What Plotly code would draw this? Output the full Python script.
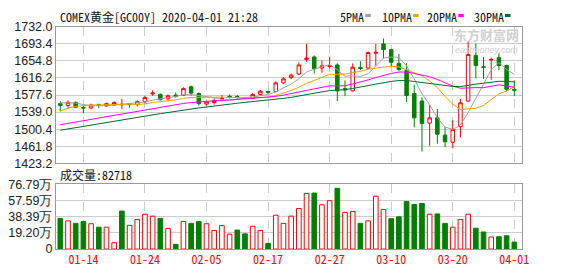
import pandas as pd
import plotly.graph_objects as go

# ---------------- data ----------------
dates = [
    "2020-01-09", "2020-01-10", "2020-01-13", "2020-01-14", "2020-01-15", "2020-01-16", "2020-01-17",
    "2020-01-20", "2020-01-21", "2020-01-22", "2020-01-23", "2020-01-24", "2020-01-27", "2020-01-28",
    "2020-01-29", "2020-01-30", "2020-01-31",
    "2020-02-03", "2020-02-04", "2020-02-05", "2020-02-06", "2020-02-07", "2020-02-10", "2020-02-11",
    "2020-02-12", "2020-02-13", "2020-02-14", "2020-02-17", "2020-02-18", "2020-02-19", "2020-02-20",
    "2020-02-21", "2020-02-24", "2020-02-25", "2020-02-26", "2020-02-27", "2020-02-28",
    "2020-03-02", "2020-03-03", "2020-03-04", "2020-03-05", "2020-03-06", "2020-03-09", "2020-03-10",
    "2020-03-11", "2020-03-12", "2020-03-13", "2020-03-16", "2020-03-17", "2020-03-18", "2020-03-19",
    "2020-03-20", "2020-03-23", "2020-03-24", "2020-03-25", "2020-03-26", "2020-03-27", "2020-03-30",
    "2020-03-31", "2020-04-01",
]
opens = [1558, 1554, 1561, 1549.5, 1548.5, 1556, 1553, 1555, 1555.5, 1558,
         1556, 1562.5, 1580, 1579, 1569, 1577.5, 1577, 1596, 1581, 1557,
         1560.5, 1568.5, 1574.5, 1574, 1571.5, 1570, 1579, 1585.5, 1585.5, 1605,
         1617, 1625, 1658, 1663.5, 1638.5, 1642, 1645.5, 1592, 1587, 1640,
         1638.5, 1672, 1693, 1680, 1649, 1633.5, 1581, 1564, 1514, 1526,
         1487, 1471, 1506, 1564, 1667, 1641.5, 1656.5, 1662, 1644, 1590.5]
highs = [1563, 1565.5, 1563, 1553, 1558, 1558, 1560.5, 1563.5, 1569, 1559.5,
         1565.5, 1576, 1588, 1581, 1578.5, 1583, 1595, 1599, 1583.5, 1564.5,
         1570.5, 1577.5, 1579, 1577.5, 1573, 1582, 1589, 1587, 1608.5, 1618,
         1626, 1651.5, 1693, 1667, 1656, 1664, 1649, 1610.5, 1649, 1654,
         1676, 1693, 1705, 1682, 1670.5, 1649, 1601, 1572.5, 1555, 1546,
         1505, 1520.5, 1569, 1699, 1694, 1663.5, 1662, 1672, 1646, 1610.5]
lows = [1540.5, 1546, 1549, 1536, 1545.5, 1548, 1550.5, 1553.5, 1545.5, 1549,
        1552, 1558, 1575.5, 1565.5, 1565.5, 1572, 1575.5, 1576, 1553.5, 1553.5,
        1556, 1563.5, 1570, 1569, 1567.5, 1569, 1576, 1580, 1583.5, 1602.5,
        1613.5, 1622.5, 1652.5, 1626, 1628, 1637, 1564, 1575, 1585.5, 1633.5,
        1635.5, 1644, 1660, 1640.5, 1632, 1562, 1504.5, 1450, 1463, 1467.5,
        1460, 1457.5, 1482, 1562, 1615.5, 1614, 1612, 1633.5, 1587, 1575]
closes = [1554, 1561, 1550, 1548, 1555, 1554, 1558, 1560.5, 1556.5, 1557,
          1562.5, 1572, 1582, 1567, 1576, 1574, 1592, 1582, 1558, 1562,
          1565, 1570, 1573, 1572, 1570, 1579, 1586, 1584, 1605, 1614,
          1622.5, 1645.5, 1661, 1637, 1643.5, 1644, 1587, 1589, 1640.5, 1637.5,
          1673.5, 1674, 1680, 1651.5, 1635, 1576.5, 1526, 1513, 1526, 1489,
          1472, 1500, 1560, 1669, 1644, 1640, 1658, 1644, 1590.5, 1588.5]
volumes = [363000, 334000, 304000, 326000, 300000, 259000, 259000, 75000, 450000, 281000,
           349000, 413000, 390000, 363000, 244000, 56000, 326000, 304000, 326000, 300000,
           221000, 278000, 177000, 225000, 180000, 270000, 221000, 67000, 401000, 304000,
           390000, 480000, 660000, 663000, 525000, 573000, 720000, 435000, 446000, 304000,
           334000, 626000, 469000, 360000, 382000, 562000, 528000, 540000, 413000, 416000,
           304000, 259000, 349000, 413000, 247000, 202000, 143000, 146000, 157000, 82718]

ma5_head = [1560, 1560, 1559.5, 1556]
ma10_head = [1541, 1548, 1552, 1554, 1555, 1555.5, 1556, 1556, 1556]
ma20_head = [1510.5, 1513.5, 1516.5, 1519.5, 1522.5, 1525.5, 1528.5, 1532, 1535.5, 1538.5,
             1541.5, 1544.5, 1547.5, 1550.5, 1553.5, 1556, 1558.5, 1560.5, 1562]
ma30_head = [1498, 1501, 1504, 1507, 1510, 1513, 1515.5, 1518.5, 1521.5, 1524.5,
             1527, 1530, 1532.5, 1535.5, 1538, 1541, 1543.5, 1546, 1548.5, 1550.5,
             1553, 1555, 1557, 1559, 1561, 1562.5, 1564.5, 1566, 1568]

x_tick_labels = ["01-14", "01-24", "02-05", "02-17", "02-27", "03-10", "03-20", "04-01"]
price_ticks = [1423.2, 1461.8, 1500.4, 1539.0, 1577.6, 1616.2, 1654.8, 1693.4, 1732.0]
vol_max = 767900
vol_ticks = [0, 191975, 383950, 575925, 767900]
vol_tick_labels = ["0", "19.20万", "38.39万", "57.59万", "76.79万"]
ma_names = ["5PMA", "10PMA", "20PMA", "30PMA"]
ma_windows = [5, 10, 20, 30]
ma_colors = ["#a0a0a0", "#f5a000", "#ff00ff", "#006a32"]
title_text = "COMEX黄金[GC00Y] 2020-04-01 21:28"

# ---------------- geometry (pixels) ----------------
W, H = 578, 276
L, R = 56, 522
P_TOP, P_BOT = 20.7, 164.7
V_TOP, V_BOT = 186.7, 255.0


def px(xp):
    return (xp - L) / (R - L)


def py(yp):
    return 1 - yp / H


heads = [ma5_head, ma10_head, ma20_head, ma30_head]
s = pd.Series(closes, dtype=float)
mas = []
for w, head in zip(ma_windows, heads):
    m = s.rolling(w).mean()
    m.iloc[:w - 1] = head
    mas.append(m.tolist())

vol_up = []
for i, c in enumerate(closes):
    vol_up.append(c > closes[i - 1] if i > 0 else c >= opens[0])

RED, GREEN = "#ff0000", "#008000"

fig = go.Figure()
fig.add_trace(go.Candlestick(
    x=dates, open=opens, high=highs, low=lows, close=closes,
    xaxis="x", yaxis="y", whiskerwidth=0, showlegend=False, hoverinfo="skip",
    increasing=dict(line=dict(color=RED, width=1), fillcolor="#ffffff"),
    decreasing=dict(line=dict(color=GREEN, width=1), fillcolor=GREEN),
))
for name, m, col in zip(ma_names, mas, ma_colors):
    fig.add_trace(go.Scatter(x=dates, y=m, mode="lines", name=name, xaxis="x", yaxis="y",
                             line=dict(color=col, width=1), showlegend=False, hoverinfo="skip"))

fig.add_trace(go.Bar(
    x=dates, y=volumes, xaxis="x2", yaxis="y2", width=0.6, showlegend=False, hoverinfo="skip",
    marker=dict(color=["#ffffff" if u else GREEN for u in vol_up],
                line=dict(color=[RED if u else GREEN for u in vol_up], width=1)),
))

tickvals = ["2020-" + t for t in x_tick_labels]
xr = [-0.56, len(dates)]
axis_font = dict(family="Liberation Sans, Arial, sans-serif", size=12.5, color="#222222")
common_x = dict(type="category", range=xr, showgrid=True, gridcolor="#cccccc", griddash="dash",
                gridwidth=1, tickvals=tickvals, ticks="", showline=True, mirror=True,
                linecolor="#9a9a9a", linewidth=1, zeroline=False, fixedrange=True)
fig.update_layout(
    width=W, height=H, margin=dict(l=L, r=W - R, t=0, b=0),
    paper_bgcolor="#ffffff", plot_bgcolor="#ffffff", showlegend=False,
    xaxis=dict(**common_x, anchor="y", showticklabels=False, rangeslider=dict(visible=False)),
    yaxis=dict(domain=[py(P_BOT), py(P_TOP)], range=[price_ticks[0], price_ticks[-1]],
               tickvals=price_ticks, ticktext=[f"{v:.1f}" for v in price_ticks],
               showgrid=True, gridcolor="#cccccc", gridwidth=1, ticks="", showline=True,
               mirror=True, linecolor="#9a9a9a", zeroline=False, tickfont=axis_font),
    xaxis2=dict(**common_x, anchor="y2", showticklabels=True, ticktext=x_tick_labels,
                tickfont=dict(family="Noto Sans Mono CJK SC, Liberation Mono, monospace",
                              size=12, color=RED)),
    yaxis2=dict(domain=[py(V_BOT), py(V_TOP)], range=[0, vol_max], tickvals=vol_ticks,
                ticktext=vol_tick_labels, showgrid=True, gridcolor="#cccccc", gridwidth=1,
                ticks="", showline=True, mirror=True, linecolor="#9a9a9a", zeroline=False,
                tickfont=axis_font),
    bargap=0.4,
    boxgap=0.35,
)

mono = "Noto Sans Mono CJK SC, Liberation Mono, monospace"
ann = []
ann.append(dict(text=title_text, x=px(58), y=py(10), xref="paper", yref="paper",
                xanchor="left", yanchor="middle", showarrow=False,
                font=dict(family=mono, size=12, color="#111111")))
leg_x = [338.3, 380, 425.3, 472]
shapes = []
for name, col, lx in zip(ma_names, ma_colors, leg_x):
    ann.append(dict(text=name, x=px(lx), y=py(9.5), xref="paper", yref="paper",
                    xanchor="left", yanchor="middle", showarrow=False,
                    font=dict(family=mono, size=12, color="#111111")))
    sx = lx + 6 * len(name) + 3
    shapes.append(dict(type="rect", xref="paper", yref="paper", x0=px(sx), x1=px(sx + 5.5),
                       y0=py(10.5), y1=py(7.3), fillcolor=col, line=dict(width=0)))
ann.append(dict(text=f"成交量:{volumes[-1]}", x=px(58), y=py(176.5), xref="paper", yref="paper",
                xanchor="left", yanchor="middle", showarrow=False,
                font=dict(family=mono, size=12, color="#111111")))
# watermark
ann.append(dict(text="<b>东方财富网</b>", x=px(486), y=py(29), xref="paper", yref="paper",
                xanchor="center", yanchor="middle", showarrow=False,
                font=dict(family="Noto Sans CJK SC", size=13, color="#d0d0d0")))
ann.append(dict(text="<i>eastmoney.com</i>", x=px(486), y=py(45.5), xref="paper", yref="paper",
                xanchor="center", yanchor="middle", showarrow=False,
                font=dict(family="Liberation Sans", size=9, color="#d0d0d0")))
fig.update_layout(annotations=ann, shapes=shapes)

fig.write_html("out.html")
